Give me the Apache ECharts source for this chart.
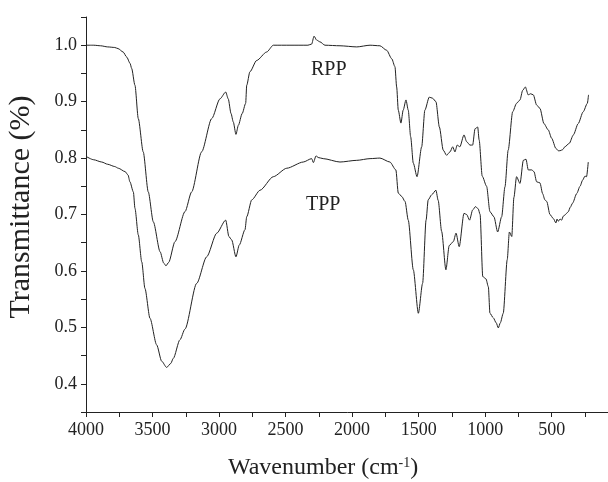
<!DOCTYPE html>
<html><head><meta charset="utf-8">
<script src="https://cdn.jsdelivr.net/npm/echarts@6/dist/echarts.min.js"></script>
<style>html,body{margin:0;padding:0;background:#fff}#c{width:608px;height:482px}</style>
</head><body><div id="c"></div>
<script>
// Wavenumbers (cm-1) and transmittance
const rppWn = [4000,3942,3890,3837,3784,3759,3721,3694,3669,3657,
  3632,3607,3570,3532,3494,3443,3416,3399,3379,3331,
  3256,3206,3131,3055,2993,2950,2931,2910,2893,2873,
  2855,2826,2800,2792,2768,2717,2642,2592,2467,2332,
  2304,2286,2266,2242,2204,2091,1965,1865,1791,1740,
  1702,1678,1665,1653,1633,1616,1595,1578,1560,1540,
  1512,1477,1453,1420,1395,1370,1344,1315,1290,1264,
  1244,1227,1210,1190,1159,1139,1114,1094,1076,1056,
  1045,1022,989,964,934,906,876,851,827,793,
  764,738,718,698,676,658,638,613,588,558,
  526,500,468,450,437,417,401,368,337,301,
  263,232,223];
const rppT = [1.000,1.000,0.999,0.997,0.996,0.994,0.988,0.979,0.968,0.959,
  0.929,0.870,0.811,0.740,0.687,0.634,0.614,0.609,0.615,0.652,
  0.705,0.740,0.811,0.870,0.905,0.917,0.905,0.879,0.864,0.842,
  0.858,0.879,0.897,0.929,0.953,0.973,0.988,1.000,1.000,1.000,
  1.002,1.016,1.009,1.006,1.000,0.999,0.997,1.000,0.999,0.991,
  0.976,0.962,0.926,0.885,0.862,0.885,0.903,0.885,0.838,0.791,
  0.767,0.820,0.885,0.908,0.906,0.900,0.855,0.814,0.805,0.811,
  0.820,0.811,0.823,0.820,0.841,0.829,0.823,0.823,0.852,0.855,
  0.832,0.768,0.750,0.705,0.696,0.669,0.696,0.749,0.814,0.882,
  0.897,0.903,0.920,0.926,0.912,0.914,0.912,0.894,0.888,0.861,
  0.850,0.835,0.817,0.813,0.813,0.815,0.820,0.826,0.841,0.861,
  0.882,0.897,0.912];
const tppWn = [4000,3942,3882,3837,3784,3757,3706,3684,3670,3644,
  3632,3607,3581,3557,3519,3469,3431,3394,3363,3344,
  3294,3256,3168,3093,3017,2950,2926,2905,2873,2848,
  2805,2792,2754,2692,2592,2491,2367,2304,2291,2271,
  2255,2217,2091,1965,1865,1791,1716,1671,1653,1627,
  1602,1578,1540,1502,1470,1444,1428,1402,1370,1353,
  1327,1295,1270,1239,1219,1195,1159,1139,1117,1094,
  1072,1052,1038,1018,994,976,964,939,917,901,
  886,864,834,818,800,784,764,738,713,693,
  676,650,633,613,588,568,551,537,513,488,
  468,460,450,437,425,413,401,388,375,360,
  343,312,287,267,250,238,225];
const tppT = [0.803,0.797,0.793,0.789,0.785,0.782,0.776,0.770,0.758,0.740,
  0.711,0.664,0.616,0.569,0.516,0.469,0.440,0.429,0.436,0.445,
  0.478,0.497,0.578,0.625,0.667,0.690,0.661,0.655,0.625,0.646,
  0.673,0.696,0.726,0.743,0.767,0.782,0.793,0.799,0.792,0.804,
  0.801,0.799,0.793,0.796,0.799,0.800,0.793,0.779,0.738,0.732,
  0.723,0.690,0.602,0.525,0.578,0.690,0.726,0.735,0.743,0.725,
  0.670,0.602,0.645,0.652,0.667,0.643,0.702,0.700,0.690,0.708,
  0.714,0.710,0.700,0.590,0.586,0.572,0.525,0.517,0.508,0.499,
  0.508,0.525,0.620,0.669,0.661,0.730,0.767,0.755,0.796,0.798,
  0.779,0.779,0.776,0.758,0.756,0.737,0.726,0.723,0.700,0.693,
  0.685,0.692,0.688,0.692,0.690,0.697,0.699,0.702,0.705,0.713,
  0.720,0.737,0.750,0.761,0.768,0.767,0.793];
const seriesNames = ['RPP', 'TPP'];
// label anchor points in data units
const rppLabelAt = [2175, 0.956];
const tppLabelAt = [2217, 0.717];

const FONT = "'Liberation Serif','Times New Roman',serif";
const INK = '#222222';
const pairs = (w, t) => w.map((v, i) => [v, t[i]]);
const isMult = (v, m) => Math.abs(v / m - Math.round(v / m)) < 1e-6;

const chart = echarts.init(document.getElementById('c'), null, {renderer: 'canvas'});
function lineSeries(name, data, at) {
  return {
    name, type: 'line', data, showSymbol: false, symbol: 'none',
    smooth: 0.25, smoothMonotone: 'x',
    lineStyle: {color: INK, width: 1}, itemStyle: {color: INK},
    markPoint: {
      symbol: 'rect', symbolSize: 1, itemStyle: {color: 'rgba(0,0,0,0)'},
      label: {show: true, position: 'inside', formatter: name, color: INK,
              fontFamily: FONT, fontSize: 20},
      data: [{coord: at}]
    }
  };
}
chart.setOption({
  animation: false,
  backgroundColor: '#ffffff',
  grid: {left: 86, width: 532.2, top: 17, height: 395, containLabel: false, outerBoundsMode: 'none'},
  xAxis: {
    type: 'value', inverse: true, min: 0, max: 4000, interval: 250,
    name: 'Wavenumber (cm{sup|-1})', nameLocation: 'middle', nameGap: 44,
    nameTextStyle: {fontFamily: FONT, fontSize: 24, color: INK, padding: [0, 58, 0, 0],
      rich: {sup: {fontFamily: FONT, fontSize: 14, color: INK, verticalAlign: 'top', padding: [0, 0, 10, 0]}}},
    axisLine: {onZero: false, lineStyle: {color: INK, width: 1}},
    axisTick: {inside: false, length: 5, lineStyle: {color: INK}},
    axisLabel: {margin: 9, fontFamily: FONT, fontSize: 18, color: INK,
      formatter: v => (v > 0 && isMult(v, 500)) ? String(v) : ''},
    splitLine: {show: false}
  },
  yAxis: {
    type: 'value', min: 0.35, max: 1.05, interval: 0.05,
    name: 'Transmittance (%)', nameLocation: 'middle', nameGap: 50,
    nameTextStyle: {fontFamily: FONT, fontSize: 30, color: INK, padding: [0, 0, 0, 15]},
    axisLine: {show: true, onZero: false, lineStyle: {color: INK, width: 1}},
    axisTick: {show: true, inside: false, length: 5, lineStyle: {color: INK}},
    axisLabel: {margin: 9, fontFamily: FONT, fontSize: 18, color: INK,
      formatter: v => isMult(v, 0.1) ? v.toFixed(1) : ''},
    splitLine: {show: false}
  },
  series: [
    lineSeries(seriesNames[0], pairs(rppWn, rppT), rppLabelAt),
    lineSeries(seriesNames[1], pairs(tppWn, tppT), tppLabelAt)
  ]
});
</script>
</body></html>
